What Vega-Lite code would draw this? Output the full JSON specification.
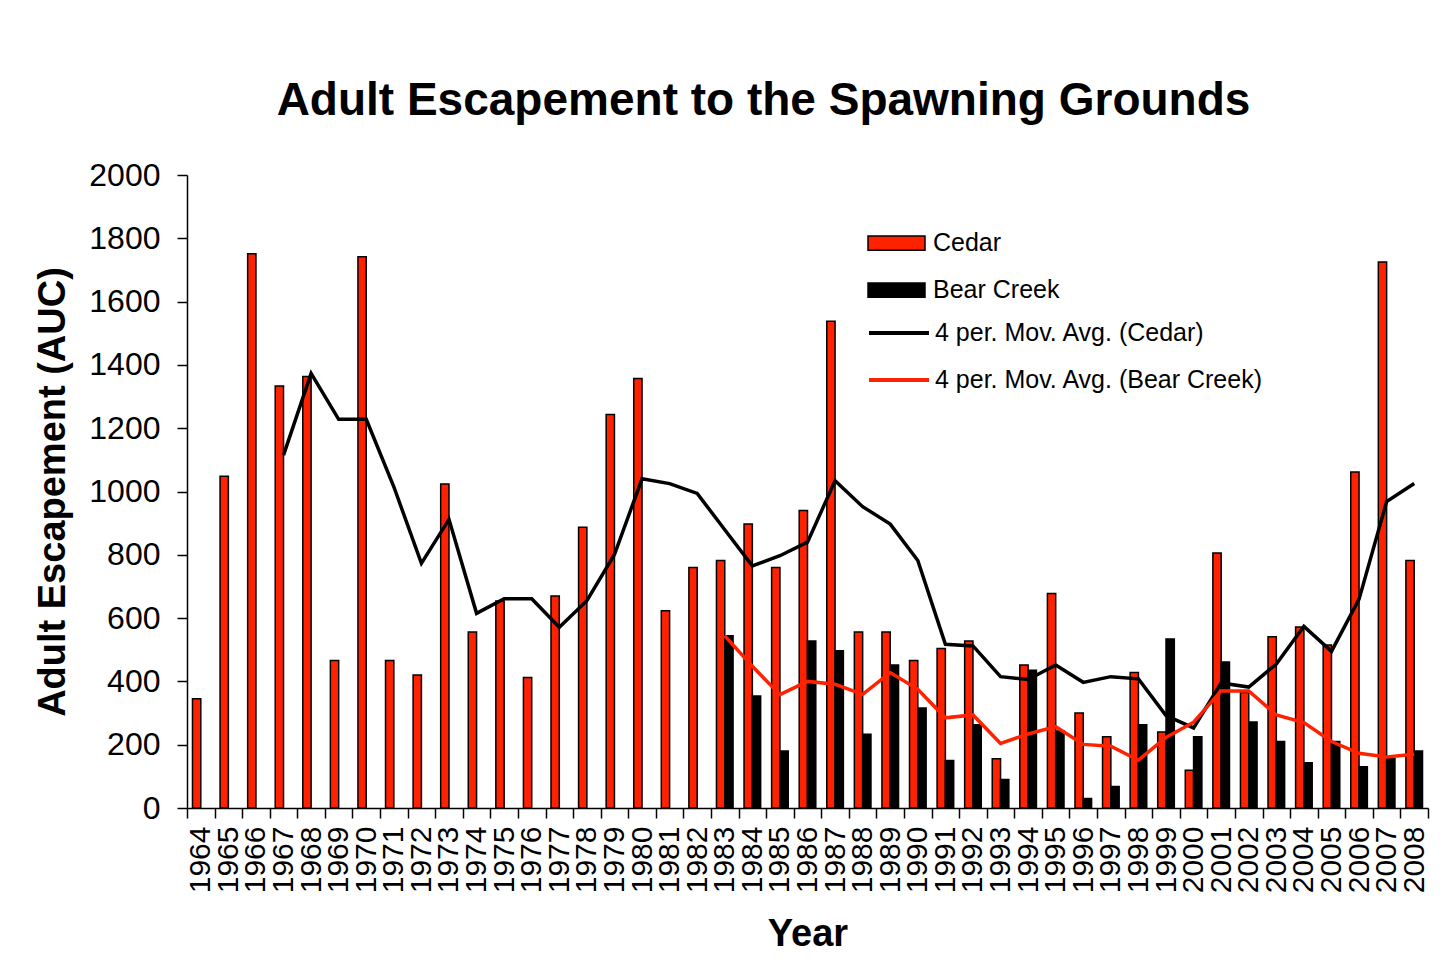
{
  "$schema": "https://vega.github.io/schema/vega-lite/v6.json",
  "width": 1241,
  "height": 633,
  "autosize": {"type": "none"},
  "padding": {"left": 187, "top": 175, "right": 24, "bottom": 170},
  "background": "white",
  "title": {"text": "Adult Escapement to the Spawning Grounds", "fontSize": 46, "font": "Liberation Sans", "fontWeight": "bold", "anchor": "middle", "dx": -44, "offset": 34, "color": "black"},
  "config": {
    "view": {"stroke": null},
    "font": "Liberation Sans",
    "axis": {"grid": false, "domainColor": "black", "tickColor": "black", "labelColor": "black", "titleColor": "black", "labelFont": "Liberation Sans", "titleFont": "Liberation Sans", "domainWidth": 1.5, "tickWidth": 1.5}
  },
  "datasets": {
    "bars": [
      {"year": 1964, "series": "Cedar", "value": 345},
      {"year": 1965, "series": "Cedar", "value": 1048},
      {"year": 1966, "series": "Cedar", "value": 1751},
      {"year": 1967, "series": "Cedar", "value": 1333},
      {"year": 1968, "series": "Cedar", "value": 1363},
      {"year": 1969, "series": "Cedar", "value": 466},
      {"year": 1970, "series": "Cedar", "value": 1742},
      {"year": 1971, "series": "Cedar", "value": 466},
      {"year": 1972, "series": "Cedar", "value": 420},
      {"year": 1973, "series": "Cedar", "value": 1024},
      {"year": 1974, "series": "Cedar", "value": 556},
      {"year": 1975, "series": "Cedar", "value": 654},
      {"year": 1976, "series": "Cedar", "value": 412},
      {"year": 1977, "series": "Cedar", "value": 670},
      {"year": 1978, "series": "Cedar", "value": 887},
      {"year": 1979, "series": "Cedar", "value": 1243},
      {"year": 1980, "series": "Cedar", "value": 1357},
      {"year": 1981, "series": "Cedar", "value": 623},
      {"year": 1982, "series": "Cedar", "value": 760},
      {"year": 1983, "series": "Cedar", "value": 782},
      {"year": 1984, "series": "Cedar", "value": 897},
      {"year": 1985, "series": "Cedar", "value": 760},
      {"year": 1986, "series": "Cedar", "value": 940},
      {"year": 1987, "series": "Cedar", "value": 1538},
      {"year": 1988, "series": "Cedar", "value": 556},
      {"year": 1989, "series": "Cedar", "value": 556},
      {"year": 1990, "series": "Cedar", "value": 466},
      {"year": 1991, "series": "Cedar", "value": 504},
      {"year": 1992, "series": "Cedar", "value": 528},
      {"year": 1993, "series": "Cedar", "value": 156},
      {"year": 1994, "series": "Cedar", "value": 452},
      {"year": 1995, "series": "Cedar", "value": 678},
      {"year": 1996, "series": "Cedar", "value": 300},
      {"year": 1997, "series": "Cedar", "value": 225},
      {"year": 1998, "series": "Cedar", "value": 428},
      {"year": 1999, "series": "Cedar", "value": 240},
      {"year": 2000, "series": "Cedar", "value": 119},
      {"year": 2001, "series": "Cedar", "value": 806},
      {"year": 2002, "series": "Cedar", "value": 365},
      {"year": 2003, "series": "Cedar", "value": 541},
      {"year": 2004, "series": "Cedar", "value": 572},
      {"year": 2005, "series": "Cedar", "value": 515},
      {"year": 2006, "series": "Cedar", "value": 1062},
      {"year": 2007, "series": "Cedar", "value": 1725},
      {"year": 2008, "series": "Cedar", "value": 782},
      {"year": 1983, "series": "Bear Creek", "value": 544},
      {"year": 1984, "series": "Bear Creek", "value": 354},
      {"year": 1985, "series": "Bear Creek", "value": 180},
      {"year": 1986, "series": "Bear Creek", "value": 528},
      {"year": 1987, "series": "Bear Creek", "value": 497},
      {"year": 1988, "series": "Bear Creek", "value": 233},
      {"year": 1989, "series": "Bear Creek", "value": 452},
      {"year": 1990, "series": "Bear Creek", "value": 316},
      {"year": 1991, "series": "Bear Creek", "value": 150},
      {"year": 1992, "series": "Bear Creek", "value": 263},
      {"year": 1993, "series": "Bear Creek", "value": 90},
      {"year": 1994, "series": "Bear Creek", "value": 435},
      {"year": 1995, "series": "Bear Creek", "value": 243},
      {"year": 1996, "series": "Bear Creek", "value": 30},
      {"year": 1997, "series": "Bear Creek", "value": 68},
      {"year": 1998, "series": "Bear Creek", "value": 263},
      {"year": 1999, "series": "Bear Creek", "value": 534},
      {"year": 2000, "series": "Bear Creek", "value": 225},
      {"year": 2001, "series": "Bear Creek", "value": 461},
      {"year": 2002, "series": "Bear Creek", "value": 272},
      {"year": 2003, "series": "Bear Creek", "value": 210},
      {"year": 2004, "series": "Bear Creek", "value": 143},
      {"year": 2005, "series": "Bear Creek", "value": 210},
      {"year": 2006, "series": "Bear Creek", "value": 130},
      {"year": 2007, "series": "Bear Creek", "value": 156},
      {"year": 2008, "series": "Bear Creek", "value": 180}
    ],
    "ma": [
      {"year": 1967, "line": "4 per. Mov. Avg. (Cedar)", "avg": 1115},
      {"year": 1968, "line": "4 per. Mov. Avg. (Cedar)", "avg": 1373},
      {"year": 1969, "line": "4 per. Mov. Avg. (Cedar)", "avg": 1228},
      {"year": 1970, "line": "4 per. Mov. Avg. (Cedar)", "avg": 1228},
      {"year": 1971, "line": "4 per. Mov. Avg. (Cedar)", "avg": 1015},
      {"year": 1972, "line": "4 per. Mov. Avg. (Cedar)", "avg": 773},
      {"year": 1973, "line": "4 per. Mov. Avg. (Cedar)", "avg": 912},
      {"year": 1974, "line": "4 per. Mov. Avg. (Cedar)", "avg": 615},
      {"year": 1975, "line": "4 per. Mov. Avg. (Cedar)", "avg": 661},
      {"year": 1976, "line": "4 per. Mov. Avg. (Cedar)", "avg": 661},
      {"year": 1977, "line": "4 per. Mov. Avg. (Cedar)", "avg": 571},
      {"year": 1978, "line": "4 per. Mov. Avg. (Cedar)", "avg": 655},
      {"year": 1979, "line": "4 per. Mov. Avg. (Cedar)", "avg": 801},
      {"year": 1980, "line": "4 per. Mov. Avg. (Cedar)", "avg": 1040},
      {"year": 1981, "line": "4 per. Mov. Avg. (Cedar)", "avg": 1025},
      {"year": 1982, "line": "4 per. Mov. Avg. (Cedar)", "avg": 994},
      {"year": 1983, "line": "4 per. Mov. Avg. (Cedar)", "avg": 879},
      {"year": 1984, "line": "4 per. Mov. Avg. (Cedar)", "avg": 765},
      {"year": 1985, "line": "4 per. Mov. Avg. (Cedar)", "avg": 797},
      {"year": 1986, "line": "4 per. Mov. Avg. (Cedar)", "avg": 840},
      {"year": 1987, "line": "4 per. Mov. Avg. (Cedar)", "avg": 1034},
      {"year": 1988, "line": "4 per. Mov. Avg. (Cedar)", "avg": 952},
      {"year": 1989, "line": "4 per. Mov. Avg. (Cedar)", "avg": 897},
      {"year": 1990, "line": "4 per. Mov. Avg. (Cedar)", "avg": 782},
      {"year": 1991, "line": "4 per. Mov. Avg. (Cedar)", "avg": 517},
      {"year": 1992, "line": "4 per. Mov. Avg. (Cedar)", "avg": 512},
      {"year": 1993, "line": "4 per. Mov. Avg. (Cedar)", "avg": 415},
      {"year": 1994, "line": "4 per. Mov. Avg. (Cedar)", "avg": 406},
      {"year": 1995, "line": "4 per. Mov. Avg. (Cedar)", "avg": 452},
      {"year": 1996, "line": "4 per. Mov. Avg. (Cedar)", "avg": 397},
      {"year": 1997, "line": "4 per. Mov. Avg. (Cedar)", "avg": 415},
      {"year": 1998, "line": "4 per. Mov. Avg. (Cedar)", "avg": 408},
      {"year": 1999, "line": "4 per. Mov. Avg. (Cedar)", "avg": 292},
      {"year": 2000, "line": "4 per. Mov. Avg. (Cedar)", "avg": 253},
      {"year": 2001, "line": "4 per. Mov. Avg. (Cedar)", "avg": 395},
      {"year": 2002, "line": "4 per. Mov. Avg. (Cedar)", "avg": 382},
      {"year": 2003, "line": "4 per. Mov. Avg. (Cedar)", "avg": 455},
      {"year": 2004, "line": "4 per. Mov. Avg. (Cedar)", "avg": 574},
      {"year": 2005, "line": "4 per. Mov. Avg. (Cedar)", "avg": 495},
      {"year": 2006, "line": "4 per. Mov. Avg. (Cedar)", "avg": 660},
      {"year": 2007, "line": "4 per. Mov. Avg. (Cedar)", "avg": 968},
      {"year": 2008, "line": "4 per. Mov. Avg. (Cedar)", "avg": 1025},
      {"year": 1983, "line": "4 per. Mov. Avg. (Bear Creek)", "avg": 544},
      {"year": 1984, "line": "4 per. Mov. Avg. (Bear Creek)", "avg": 448},
      {"year": 1985, "line": "4 per. Mov. Avg. (Bear Creek)", "avg": 358},
      {"year": 1986, "line": "4 per. Mov. Avg. (Bear Creek)", "avg": 400},
      {"year": 1987, "line": "4 per. Mov. Avg. (Bear Creek)", "avg": 391},
      {"year": 1988, "line": "4 per. Mov. Avg. (Bear Creek)", "avg": 359},
      {"year": 1989, "line": "4 per. Mov. Avg. (Bear Creek)", "avg": 428},
      {"year": 1990, "line": "4 per. Mov. Avg. (Bear Creek)", "avg": 375},
      {"year": 1991, "line": "4 per. Mov. Avg. (Bear Creek)", "avg": 285},
      {"year": 1992, "line": "4 per. Mov. Avg. (Bear Creek)", "avg": 294},
      {"year": 1993, "line": "4 per. Mov. Avg. (Bear Creek)", "avg": 204},
      {"year": 1994, "line": "4 per. Mov. Avg. (Bear Creek)", "avg": 234},
      {"year": 1995, "line": "4 per. Mov. Avg. (Bear Creek)", "avg": 257},
      {"year": 1996, "line": "4 per. Mov. Avg. (Bear Creek)", "avg": 201},
      {"year": 1997, "line": "4 per. Mov. Avg. (Bear Creek)", "avg": 195},
      {"year": 1998, "line": "4 per. Mov. Avg. (Bear Creek)", "avg": 151},
      {"year": 1999, "line": "4 per. Mov. Avg. (Bear Creek)", "avg": 223},
      {"year": 2000, "line": "4 per. Mov. Avg. (Bear Creek)", "avg": 271},
      {"year": 2001, "line": "4 per. Mov. Avg. (Bear Creek)", "avg": 370},
      {"year": 2002, "line": "4 per. Mov. Avg. (Bear Creek)", "avg": 370},
      {"year": 2003, "line": "4 per. Mov. Avg. (Bear Creek)", "avg": 294},
      {"year": 2004, "line": "4 per. Mov. Avg. (Bear Creek)", "avg": 270},
      {"year": 2005, "line": "4 per. Mov. Avg. (Bear Creek)", "avg": 210},
      {"year": 2006, "line": "4 per. Mov. Avg. (Bear Creek)", "avg": 173},
      {"year": 2007, "line": "4 per. Mov. Avg. (Bear Creek)", "avg": 161},
      {"year": 2008, "line": "4 per. Mov. Avg. (Bear Creek)", "avg": 170}
    ]
  },
  "encoding": {
    "x": {
      "field": "year", "type": "ordinal",
      "scale": {"domain": [1964,1965,1966,1967,1968,1969,1970,1971,1972,1973,1974,1975,1976,1977,1978,1979,1980,1981,1982,1983,1984,1985,1986,1987,1988,1989,1990,1991,1992,1993,1994,1995,1996,1997,1998,1999,2000,2001,2002,2003,2004,2005,2006,2007,2008], "paddingInner": 0, "paddingOuter": 0},
      "axis": {"title": "Year", "titleFontSize": 38, "titleFontWeight": "bold", "titlePadding": 23, "labelAngle": 270, "labelFontSize": 30, "labelPadding": 8, "tickBand": "extent", "tickSize": 10, "labelBaseline": "middle"}
    }
  },
  "layer": [
    {
      "data": {"name": "bars"},
      "mark": {"type": "bar", "stroke": "black", "strokeWidth": 1.5},
      "encoding": {
        "xOffset": {"field": "series", "type": "nominal", "scale": {"domain": ["Cedar", "Bear Creek"], "paddingInner": 0, "paddingOuter": 0.66}},
        "y": {
          "field": "value", "type": "quantitative",
          "scale": {"domain": [0, 2000], "nice": false},
          "axis": {"title": "Adult Escapement (AUC)", "titleFontSize": 38, "titleFontWeight": "bold", "titlePadding": 16, "values": [0,200,400,600,800,1000,1200,1400,1600,1800,2000], "format": "d", "labelFontSize": 32, "labelPadding": 17, "tickSize": 10}
        },
        "fill": {
          "field": "series", "type": "nominal",
          "scale": {"domain": ["Cedar", "Bear Creek"], "range": ["#FF2200", "#000000"]},
          "legend": {"title": null, "orient": "none", "legendX": 680, "legendY": 56, "padding": 0, "symbolType": "M-1,-0.25H1V0.25H-1Z", "symbolSize": 3249, "symbolStrokeColor": "black", "symbolStrokeWidth": 1.5, "symbolOpacity": 1, "labelFontSize": 25, "labelFont": "Liberation Sans", "labelColor": "black", "labelLimit": 500, "clipHeight": 24, "rowPadding": 22, "labelOffset": 7}
        }
      }
    },
    {
      "data": {"name": "ma"},
      "mark": {"type": "line", "strokeWidth": 3.5, "strokeJoin": "miter"},
      "encoding": {
        "y": {"field": "avg", "type": "quantitative"},
        "stroke": {
          "field": "line", "type": "nominal",
          "scale": {"domain": ["4 per. Mov. Avg. (Cedar)", "4 per. Mov. Avg. (Bear Creek)"], "range": ["#000000", "#FF2200"]},
          "legend": {"title": null, "orient": "none", "legendX": 680, "legendY": 146, "padding": 0, "symbolType": "stroke", "symbolSize": 3600, "symbolStrokeWidth": 4, "labelFontSize": 25, "labelFont": "Liberation Sans", "labelColor": "black", "labelLimit": 500, "clipHeight": 24, "rowPadding": 22, "labelOffset": 4}
        }
      }
    }
  ]
}
